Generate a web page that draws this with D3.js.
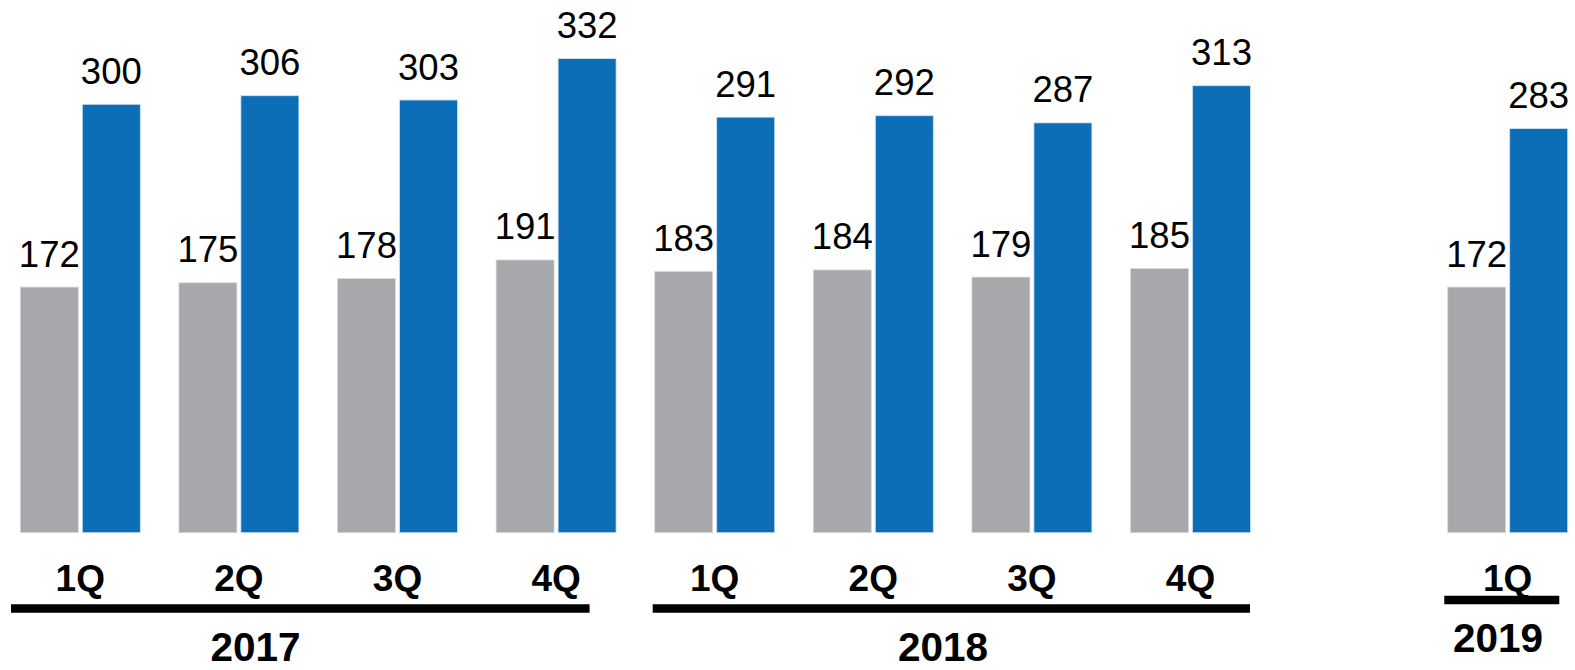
<!DOCTYPE html>
<html>
<head>
<meta charset="utf-8">
<script src="https://cdn.jsdelivr.net/npm/d3@7"></script>
<style>
  html, body { margin: 0; padding: 0; background: #ffffff; }
  svg { display: block; }
</style>
</head>
<body>
<svg id="chart" width="1575" height="670"></svg>
<script>
// Quarterly values, two series per quarter
const years = ["2017", "2018", "2019"];
const quarterLabels = ["1Q", "2Q", "3Q", "4Q", "1Q", "2Q", "3Q", "4Q", "1Q"];
const quarterYears = ["2017", "2017", "2017", "2017", "2018", "2018", "2018", "2018", "2019"];
const grayValues = [172, 175, 178, 191, 183, 184, 179, 185, 172];
const blueValues = [300, 306, 303, 332, 291, 292, 287, 313, 283];
const seriesKeys = ["gray", "blue"];

const W = 1575, H = 670;
const baseline = 532.7;
const colors = { gray: "#A7A8AB", blue: "#0C6EB6" };
const edge = { gray: "#d9dadc", blue: "#cfe1f1" };
const font = "'Liberation Sans', Arial, Helvetica, sans-serif";

const svg = d3.select("#chart");

// One slot per quarter, with an empty slot before the 2019 group
const slotKeys = [];
quarterLabels.forEach((q, i) => {
  if (i > 0 && quarterYears[i] === "2019" && quarterYears[i - 1] !== "2019") slotKeys.push("gap");
  slotKeys.push(quarterYears[i] + " " + q);
});
const rows = quarterLabels.map((q, i) => ({
  key: quarterYears[i] + " " + q,
  quarter: q,
  year: quarterYears[i],
  gray: grayValues[i],
  blue: blueValues[i]
}));

const x = d3.scaleBand()
  .domain(slotKeys)
  .range([20.3, 1567.7])
  .paddingInner(0.2434)
  .paddingOuter(0);

const xInner = d3.scaleBand()
  .domain(seriesKeys)
  .range([0, x.bandwidth()])
  .paddingInner(0.0645);

const y = d3.scaleLinear()
  .domain([0, 350])
  .range([baseline, baseline - 1.428 * 350]);

// Bars and value labels
const groups = svg.append("g").selectAll("g.q")
  .data(rows)
  .join("g")
  .attr("class", "q")
  .attr("transform", d => `translate(${x(d.key)},0)`);

groups.selectAll("rect")
  .data(d => seriesKeys.map(k => ({ k, v: d[k] })))
  .join("rect")
  .attr("x", d => xInner(d.k))
  .attr("y", d => y(d.v))
  .attr("width", xInner.bandwidth())
  .attr("height", d => y(0) - y(d.v))
  .attr("fill", d => colors[d.k])
  .attr("stroke", d => edge[d.k])
  .attr("stroke-width", 0.8);

groups.selectAll("text.val")
  .data(d => seriesKeys.map(k => ({ k, v: d[k] })))
  .join("text")
  .attr("class", "val")
  .attr("x", d => xInner(d.k) + xInner.bandwidth() / 2)
  .attr("y", d => y(d.v) - 20.5)
  .attr("text-anchor", "middle")
  .attr("font-family", font)
  .attr("font-size", 36.5)
  .attr("fill", "#000")
  .text(d => d.v);

// Quarter labels under each pair
svg.append("g").selectAll("text")
  .data(rows)
  .join("text")
  .attr("x", d => x(d.key) + x.bandwidth() / 2)
  .attr("y", 591)
  .attr("text-anchor", "middle")
  .attr("font-family", font)
  .attr("font-weight", "bold")
  .attr("font-size", 37)
  .attr("fill", "#000")
  .text(d => d.quarter);

// Year brackets: a rule under each year's quarters and the year name
const yearLayout = {
  "2017": { left: -9.3, right: -26.5, ruleY: 608.5, labelDx: 235.2, labelY: 661 },
  "2018": { left: -2, right: -0.5, ruleY: 608.5, labelDx: 288.3, labelY: 661 },
  "2019": { left: -3.4, right: -8.4, ruleY: 600, labelDx: 50.3, labelY: 651.5 }
};

const yearGroups = svg.append("g").selectAll("g")
  .data(years)
  .join("g");

yearGroups.each(function (yr) {
  const ks = rows.filter(r => r.year === yr).map(r => r.key);
  const L = yearLayout[yr];
  const x0 = x(ks[0]);
  const x1 = x(ks[ks.length - 1]) + x.bandwidth();
  const g = d3.select(this);
  g.append("line")
    .attr("x1", x0 + L.left)
    .attr("x2", x1 + L.right)
    .attr("y1", L.ruleY)
    .attr("y2", L.ruleY)
    .attr("stroke", "#000")
    .attr("stroke-width", 8.4);
  g.append("text")
    .attr("x", x0 + L.labelDx)
    .attr("y", L.labelY)
    .attr("text-anchor", "middle")
    .attr("font-family", font)
    .attr("font-weight", "bold")
    .attr("font-size", 40.5)
    .attr("fill", "#000")
    .text(yr);
});
</script>
</body>
</html>
